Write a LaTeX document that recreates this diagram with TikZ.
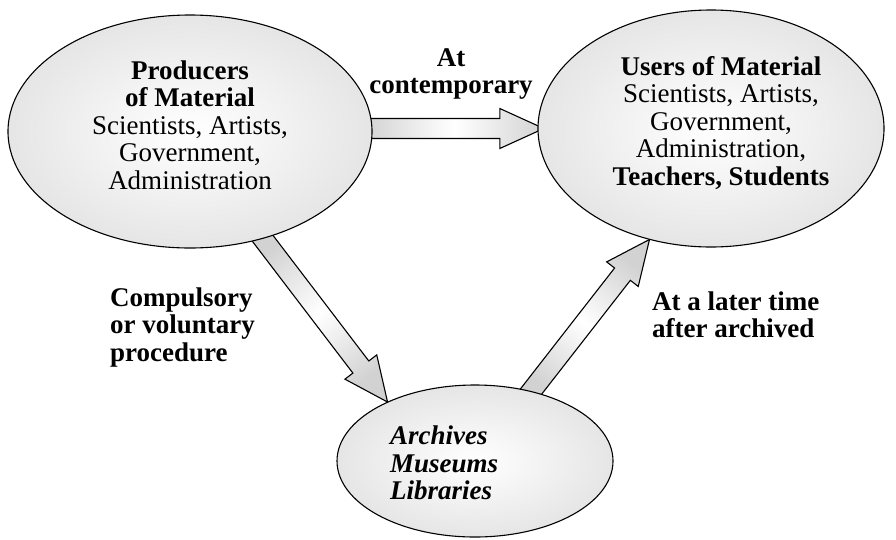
\documentclass[tikz,border=0pt]{standalone}
\usepackage{fontspec}
\setmainfont{Liberation Serif}
\usetikzlibrary{shapes.geometric,calc}
\tikzset{
  bubble/.style={ellipse, draw=black, line width=1.1pt, inner sep=0pt,
    shade, inner color=white, outer color=gray!20},
  arrowbody/.style={draw=black, line width=1.1pt, line join=miter,
    shade, top color=gray!35, bottom color=gray!35, middle color=white},
  txt/.style={font=\fontsize{27}{27.5}\selectfont, inner sep=0pt},
  boldtxt/.style={font=\fontsize{27}{27.5}\selectfont\bfseries, inner sep=0pt},
}
\newcommand\blockarr[3]{%
  \coordinate (hb) at ($(#2)!44pt!(#1)$);
  \path[arrowbody, shading angle=#3]
    ($(#1)!10pt!90:(#2)$) -- ($(hb)!10pt!90:(#2)$) -- ($(hb)!20pt!90:(#2)$)
    -- (#2) -- ($(hb)!20pt!-90:(#2)$) -- ($(hb)!10pt!-90:(#2)$)
    -- ($(#1)!10pt!-90:(#2)$) -- cycle;
}
\begin{document}
\begin{tikzpicture}[x=1pt,y=-1pt]
\useasboundingbox (0,0) rectangle (896,539);
% ellipses (positions only, drawn later)
\path (190,131.5) node[ellipse, minimum width=364pt, minimum height=233pt, inner sep=0pt] (prodshape) {};
\path (711,128.5) node[ellipse, minimum width=346pt, minimum height=237pt, inner sep=0pt] (usersshape) {};
\path (475,461) node[ellipse, minimum width=276pt, minimum height=152pt, inner sep=0pt] (archshape) {};
% arrow endpoints
\coordinate (a1s) at ($(prodshape.east |- usersshape.west)+(-8,0)$);
\coordinate (a1e) at ($(usersshape.west)+(6,0)$);
\coordinate (a2s) at ($(prodshape.center)!0.93!(prodshape.-56)$);
\coordinate (a2e) at (archshape.146);
\coordinate (a3s) at ($(archshape.center)!0.9!(archshape.51)$);
\coordinate (a3e) at (usersshape.-119);
% arrows
\blockarr{a1s}{a1e}{90}
\blockarr{a2s}{a2e}{38}
\blockarr{a3s}{a3e}{-38}
% ellipses
\node[bubble, minimum width=364pt, minimum height=233pt] (prod) at (prodshape) {};
\node[bubble, minimum width=346pt, minimum height=237pt] (users) at (usersshape) {};
\node[bubble, minimum width=276pt, minimum height=152pt] (arch) at (archshape) {};
% texts
\node[txt, align=center] (prodtxt) at (190,125)
  {\textbf{Producers}\\\textbf{of Material}\\Scientists, Artists,\\Government,\\Administration};
\node[txt, align=center] (userstxt) at (721,123)
  {\textbf{Users of Material}\\Scientists, Artists,\\Government,\\Administration,\\\textbf{Teachers, Students}};
\node[txt, align=left, anchor=west] (archtxt) at (390,463)
  {\textbf{\itshape Archives}\\\textbf{\itshape Museums}\\\textbf{\itshape Libraries}};
\node[boldtxt, align=center] (lab1) at (451,74)
  {At\\contemporary};
\node[boldtxt, align=left, anchor=west] (lab2) at (110,327)
  {Compulsory\\or voluntary\\procedure};
\node[boldtxt, align=left, anchor=west] (lab3) at (652,315)
  {At a later time\\after archived};
\end{tikzpicture}
\end{document}
